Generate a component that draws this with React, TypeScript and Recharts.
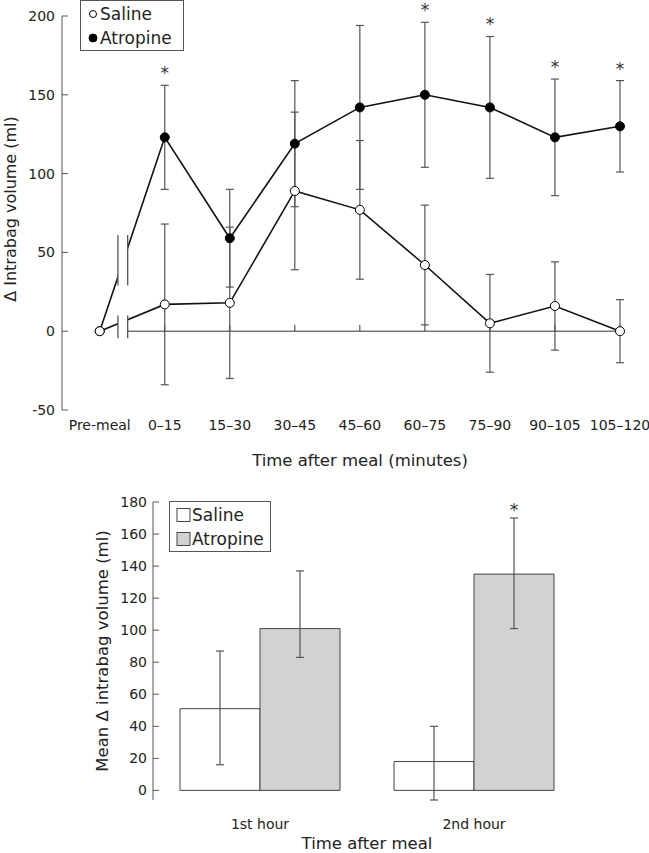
import React from "react";
import {
  ComposedChart,
  BarChart,
  Bar,
  Line,
  Scatter,
  XAxis,
  YAxis,
  ErrorBar,
  ReferenceLine,
  ReferenceArea,
  Legend,
  LabelList,
} from "recharts";

const FONT = "'DejaVu Sans', sans-serif";
const INK = "#222";
const AXIS = "#555";
const WHISKER = "#555";
const BAR_GREY = "#d2d2d2";

// top panel: 15 min intervals after the meal
const timeLabels = ["Pre-meal", "0–15", "15–30", "30–45", "45–60", "60–75", "75–90", "90–105", "105–120"];
const salineMean = [0, 17, 18, 89, 77, 42, 5, 16, 0];
const salineSd = [0, 51, 48, 50, 44, 38, 31, 28, 20];
const atropineMean = [0, 123, 59, 119, 142, 150, 142, 123, 130];
const atropineSd = [0, 33, 31, 40, 52, 46, 45, 37, 29];
const starred = [false, true, false, false, false, true, true, true, true];
const volumeTicks = [-50, 0, 50, 100, 150, 200];

// bottom panel: hourly means, [below, above] error
const hourLabels = ["1st hour", "2nd hour"];
const salineHour = [51, 18];
const salineHourErr = [[35, 36], [24, 22]];
const atropineHour = [101, 135];
const atropineHourErr = [[18, 36], [34, 35]];
const hourStarred = [false, true];
const hourTicks = [0, 20, 40, 60, 80, 100, 120, 140, 160, 180];

const seriesNames = ["Saline", "Atropine"];

// axis break between pre-meal and first interval
const breakX = [0.28, 0.43];
const breakSpans = [[29, 61], [-4.5, 10]];

const rows = timeLabels.map((label, i) => ({
  t: i,
  label,
  saline: salineMean[i],
  salineErr: salineSd[i],
  atropine: atropineMean[i],
  atropineErr: atropineSd[i],
}));

const starRows = timeLabels
  .map((_, i) => ({ t: i, star: atropineMean[i] + atropineSd[i] }))
  .filter((_, i) => starred[i]);

const hourRows = hourLabels.map((hour, i) => ({
  hour,
  saline: salineHour[i],
  salineErr: salineHourErr[i],
  atropine: atropineHour[i],
  atropineErr: atropineHourErr[i],
}));

const tickStyle = { fill: INK, fontSize: 14, fontFamily: FONT };

function Star(props: any) {
  return (
    <text x={props.cx} y={props.cy - 6} textAnchor="middle" fontSize={17} fontFamily={FONT} fill="#333">
      *
    </text>
  );
}

function BarStar(props: any) {
  const { x, y, width, height, value, index } = props;
  if (!hourStarred[index]) return null;
  const perUnit = height / value;
  const top = y - atropineHourErr[index][1] * perUnit;
  return (
    <text x={x + width / 2} y={top - 2} textAnchor="middle" fontSize={17} fontFamily={FONT} fill="#333">
      *
    </text>
  );
}

function TopLegend() {
  return (
    <div
      style={{
        border: `1px solid ${AXIS}`,
        background: "#fff",
        width: 104,
        height: 51,
        boxSizing: "border-box",
        paddingTop: 1,
        fontFamily: FONT,
        fontSize: 17,
        color: INK,
      }}
    >
      {seriesNames.map((name, i) => (
        <div key={name} style={{ display: "flex", alignItems: "center", height: 24 }}>
          <svg width={19} height={12} style={{ flex: "none" }}>
            <circle cx={12} cy={6} r={i === 0 ? 3.5 : 4} fill={i === 0 ? "#fff" : "#000"} stroke="#000" strokeWidth={1} />
          </svg>
          <span>{name}</span>
        </div>
      ))}
    </div>
  );
}

function BottomLegend() {
  return (
    <div
      style={{
        border: `1px solid ${AXIS}`,
        background: "#fff",
        width: 102,
        height: 51,
        boxSizing: "border-box",
        paddingTop: 1,
        fontFamily: FONT,
        fontSize: 17,
        color: INK,
      }}
    >
      {seriesNames.map((name, i) => (
        <div key={name} style={{ display: "flex", alignItems: "center", height: 24 }}>
          <svg width={22} height={14} style={{ flex: "none" }}>
            <rect x={7} y={0.5} width={13} height={13} fill={i === 0 ? "#fff" : BAR_GREY} stroke="#444" strokeWidth={1} />
          </svg>
          <span>{name}</span>
        </div>
      ))}
    </div>
  );
}

function TimeChart() {
  return (
    <ComposedChart width={649} height={480} data={rows} margin={{ top: 16, right: 16, left: 0, bottom: 10 }}>
      <XAxis
        dataKey="t"
        type="number"
        domain={[-0.58, 8.2]}
        ticks={timeLabels.map((_, i) => i)}
        interval={0}
        tickFormatter={(v) => timeLabels[v] ?? ""}
        axisLine={false}
        tickLine={false}
        tickSize={0}
        tickMargin={10}
        height={60}
        tick={tickStyle}
        label={(p: any) => {
          const vb = p.viewBox;
          return (
            <text x={vb.x + vb.width / 2 + 12.5} y={vb.y + 56} textAnchor="middle" fontSize={16.5} fontFamily={FONT} fill={INK}>
              Time after meal (minutes)
            </text>
          );
        }}
      />
      <YAxis
        type="number"
        domain={[-50, 200]}
        ticks={volumeTicks}
        width={62}
        stroke={AXIS}
        tickSize={-6}
        tickMargin={13}
        tick={tickStyle}
        label={(p: any) => {
          const vb = p.viewBox;
          return (
            <text
              transform={`translate(${vb.x + 15.5},${vb.y + vb.height / 2 - 4}) rotate(-90)`}
              textAnchor="middle"
              fontSize={16}
              fontFamily={FONT}
              fill={INK}
            >
              Δ Intrabag volume (ml)
            </text>
          );
        }}
      />
      <Legend
        layout="vertical"
        verticalAlign="middle"
        align="center"
        wrapperStyle={{ top: 0, left: 80, width: "auto", height: "auto" }}
        content={TopLegend}
      />
      <ReferenceLine segment={[{ x: breakX[1], y: 0 }, { x: 8, y: 0 }]} stroke="#333" strokeWidth={1} />
      {timeLabels.slice(1).map((_, i) => (
        <ReferenceLine key={i} segment={[{ x: i + 1, y: 0 }, { x: i + 1, y: 4 }]} stroke="#333" strokeWidth={1} />
      ))}
      <Line
        dataKey="atropine"
        stroke="#111"
        strokeWidth={1.6}
        dot={{ r: 4.5, fill: "#000", stroke: "#000", strokeWidth: 1 }}
        activeDot={false}
        isAnimationActive={false}
      >
        <ErrorBar dataKey="atropineErr" width={4} stroke={WHISKER} strokeWidth={1.2} direction="y" />
      </Line>
      <Line
        dataKey="saline"
        stroke="#111"
        strokeWidth={1.6}
        dot={{ r: 4.5, fill: "#fff", stroke: "#000", strokeWidth: 1 }}
        activeDot={false}
        isAnimationActive={false}
      >
        <ErrorBar dataKey="salineErr" width={4} stroke={WHISKER} strokeWidth={1.2} direction="y" />
      </Line>
      <Scatter data={starRows} dataKey="star" shape={Star} isAnimationActive={false} />
      <ReferenceArea x1={breakX[0]} x2={breakX[1]} y1={-10} y2={70} fill="#fff" fillOpacity={1} stroke="none" zIndex={1500} />
      {breakX.map((bx) =>
        breakSpans.map((span, j) => (
          <ReferenceLine
            key={`${bx}-${j}`}
            segment={[{ x: bx, y: span[0] }, { x: bx, y: span[1] }]}
            stroke={AXIS}
            strokeWidth={1.3}
            zIndex={1600}
          />
        ))
      )}
    </ComposedChart>
  );
}

function HourChart() {
  return (
    <BarChart
      width={649}
      height={373}
      data={hourRows}
      margin={{ top: 22, right: 68, left: 0, bottom: 0 }}
      barCategoryGap={27}
      barGap={0}
    >
      <XAxis
        dataKey="hour"
        axisLine={false}
        tickLine={false}
        tickSize={0}
        tickMargin={19}
        height={53}
        interval={0}
        tick={tickStyle}
        label={(p: any) => {
          const vb = p.viewBox;
          return (
            <text x={vb.x + vb.width / 2} y={vb.y + 49} textAnchor="middle" fontSize={16.5} fontFamily={FONT} fill={INK}>
              Time after meal
            </text>
          );
        }}
      />
      <YAxis
        type="number"
        domain={() => [0, 180]}
        ticks={hourTicks}
        width={153}
        stroke={AXIS}
        tickSize={-6}
        tickMargin={12}
        tick={tickStyle}
        label={(p: any) => {
          const vb = p.viewBox;
          return (
            <text
              transform={`translate(${vb.x + 108},${vb.y + vb.height / 2}) rotate(-90)`}
              textAnchor="middle"
              fontSize={16.5}
              fontFamily={FONT}
              fill={INK}
            >
              Mean Δ intrabag volume (ml)
            </text>
          );
        }}
      />
      <Legend
        layout="vertical"
        verticalAlign="middle"
        align="center"
        wrapperStyle={{ top: 21, left: 169, width: "auto", height: "auto" }}
        content={BottomLegend}
      />
      <Bar dataKey="saline" fill="#fff" stroke="#444" strokeWidth={1} isAnimationActive={false}>
        <ErrorBar dataKey="salineErr" width={4} stroke={WHISKER} strokeWidth={1.2} />
      </Bar>
      <Bar dataKey="atropine" fill={BAR_GREY} stroke="#444" strokeWidth={1} isAnimationActive={false}>
        <ErrorBar dataKey="atropineErr" width={4} stroke={WHISKER} strokeWidth={1.2} />
        <LabelList dataKey="atropine" content={BarStar} />
      </Bar>
    </BarChart>
  );
}

export default function App() {
  return (
    <div style={{ position: "absolute", top: 0, left: 0, width: 649, height: 853, background: "#fff" }}>
      <TimeChart />
      <HourChart />
    </div>
  );
}
